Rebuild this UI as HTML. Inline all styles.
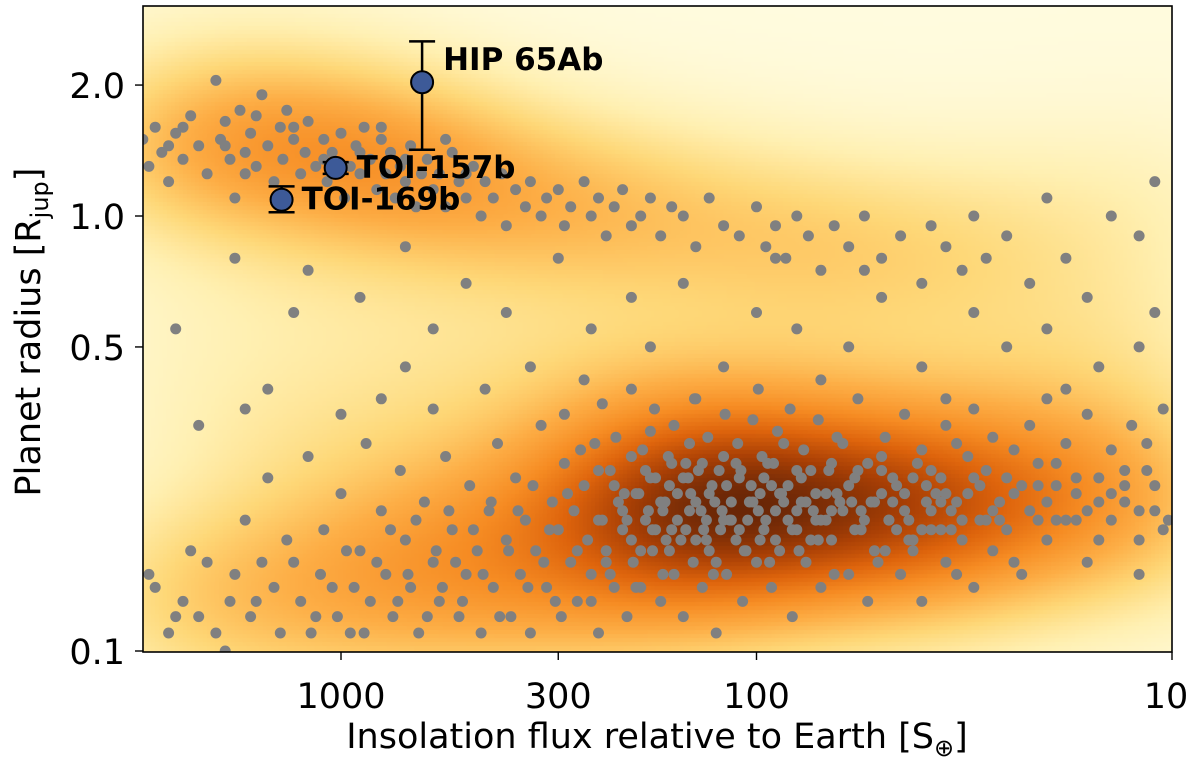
<!DOCTYPE html>
<html><head><meta charset="utf-8">
<style>
html,body{margin:0;padding:0;background:#fff;width:1200px;height:762px;overflow:hidden}
#wrap{position:relative;width:1200px;height:762px}
#heat{position:absolute;left:143px;top:6px}
svg{position:absolute;left:0;top:0}
text{font-family:"DejaVu Sans","Liberation Sans",sans-serif}
</style></head>
<body>
<div id="wrap">
<canvas id="heat" width="1029" height="646"></canvas>
<svg id="svg" width="1200" height="762"></svg>
</div>
<script>
// ---- data ----
const upperFlux=[3000,2900,2800,2700,2600,2500,2400,2300,2200,2100,2000,1950,1900,1850,1800,1750,1700,1650,1600,1550,1500,1450,1400,1380,1350,1300,1250,1220,1200,1150,1100,1080,1050,1000,980,950,920,900,880,850,820,800,780,760,740,720,700,680,660,640,620,600,580,560,540,520,500,480,460,450,430,410,400,380,360,350,330,320,300,290,280,260,250,240,230,220,210,200,190,180,170,160,150,140,130,120,110,100,95,90,85,80,75,70,65,60,55,50,45,40,38,35,32,30,28,25,22,20,18,16,14,12,11,2400,1900,1600,1300,1100,900,700,500,560,800,1700,2600];
const upperR=[1.5,1.3,1.6,1.4,1.2,1.55,1.35,1.7,1.45,1.25,2.05,1.5,1.65,1.35,1.1,1.75,1.4,1.55,1.3,1.9,1.45,1.2,1.6,1.35,1.75,1.5,1.25,1.4,1.65,1.3,1.5,1.2,1.4,1.55,1.1,1.3,1.45,1.25,1.6,1.35,1.15,1.5,1.25,1.4,1.1,1.3,1.2,1.45,1.05,1.25,1.35,1.15,1.25,1.05,1.4,1.2,1.1,1.3,1.0,1.2,1.1,1.25,0.95,1.15,1.05,1.2,1.0,1.1,1.15,0.95,1.05,1.2,1.0,1.1,0.9,1.05,1.15,0.95,1.0,1.1,0.9,1.05,1.0,0.85,1.1,0.95,0.9,1.05,0.85,0.95,0.8,1.0,0.9,0.75,0.95,0.85,1.0,0.8,0.9,0.7,0.95,0.85,0.75,1.0,0.8,0.9,0.7,1.1,0.8,0.65,1.0,0.9,1.2,1.6,1.45,1.7,1.6,1.35,1.4,1.35,1.25,1.5,1.6,1.25,1.45];
const midFlux=[2500,1800,1200,1300,900,700,600,500,400,350,300,250,200,180,150,120,100,80,60,50,40,30,25,20,15,12,11,1500,1000,800,2200,450,140,70,35,18,1700,600,260,90,55,700];
const midR=[0.55,0.8,0.75,0.6,0.65,0.45,0.55,0.7,0.6,0.45,0.8,0.55,0.65,0.5,0.7,0.45,0.6,0.55,0.5,0.65,0.45,0.6,0.5,0.55,0.45,0.5,0.6,0.4,0.35,0.38,0.33,0.4,0.38,0.42,0.38,0.4,0.36,0.36,0.42,0.8,0.75,0.85];
const lowerFlux=[2800,2500,2300,2000,1800,1700,1600,1500,1400,1300,1200,1150,1100,1050,1000,950,900,870,850,800,780,750,720,700,680,650,630,600,580,560,540,520,500,490,470,460,440,430,420,400,390,380,370,360,350,340,330,320,310,300,295,290,280,275,270,260,255,250,245,240,235,230,225,220,215,210,205,200,198,195,190,185,180,178,175,170,168,165,160,158,155,150,148,145,142,140,138,135,132,130,128,125,122,120,118,115,112,110,108,105,102,100,98,96,94,92,90,88,86,84,82,80,78,76,74,72,70,68,66,64,62,60,58,56,54,52,50,49,48,46,45,44,42,41,40,39,38,36,35,34,33,32,31,30,29,28,27,26,25,24,23,22,21,20,19,18,17,16,15,14,13,12,11.5,11,10.5,240,220,200,185,170,160,150,140,130,120,112,104,96,90,84,78,72,66,60,55,50,46,42,38,35,32,29,26,23,20,17,15,13,230,210,190,175,162,145,135,125,115,106,99,92,86,80,74,68,63,57,52,47,43,39,36,33,30,27,24,21,19,16,14,12];
const lowerR=[0.14,0.12,0.17,0.11,0.15,0.2,0.13,0.25,0.11,0.16,0.28,0.12,0.19,0.14,0.23,0.11,0.17,0.3,0.13,0.21,0.15,0.12,0.26,0.18,0.14,0.11,0.22,0.16,0.13,0.28,0.19,0.12,0.15,0.24,0.17,0.11,0.21,0.14,0.3,0.18,0.12,0.25,0.15,0.2,0.11,0.17,0.33,0.14,0.22,0.19,0.12,0.27,0.16,0.21,0.13,0.24,0.18,0.15,0.3,0.11,0.2,0.17,0.26,0.14,0.22,0.19,0.12,0.28,0.16,0.23,0.14,0.2,0.32,0.17,0.25,0.13,0.21,0.18,0.27,0.15,0.23,0.12,0.19,0.3,0.16,0.22,0.26,0.14,0.2,0.17,0.24,0.11,0.19,0.28,0.15,0.22,0.18,0.25,0.13,0.2,0.34,0.16,0.23,0.19,0.27,0.14,0.21,0.17,0.3,0.24,0.12,0.19,0.22,0.16,0.26,0.2,0.14,0.23,0.18,0.31,0.21,0.15,0.25,0.19,0.13,0.22,0.28,0.17,0.2,0.24,0.15,0.21,0.18,0.27,0.13,0.22,0.19,0.25,0.16,0.21,0.3,0.18,0.23,0.14,0.2,0.26,0.17,0.22,0.19,0.29,0.15,0.21,0.24,0.18,0.27,0.2,0.23,0.16,0.25,0.2,0.22,0.18,0.26,0.21,0.19,0.2,0.24,0.18,0.26,0.22,0.19,0.25,0.18,0.23,0.2,0.27,0.22,0.25,0.18,0.2,0.25,0.23,0.21,0.24,0.2,0.23,0.19,0.25,0.21,0.23,0.2,0.24,0.2,0.24,0.22,0.2,0.22,0.24,0.16,0.21,0.17,0.19,0.24,0.21,0.27,0.16,0.2,0.17,0.21,0.24,0.22,0.26,0.18,0.2,0.22,0.26,0.17,0.22,0.2,0.24,0.19,0.22,0.25,0.21,0.23,0.2,0.24,0.21,0.23,0.21];
const lower2Flux=[2900,2600,2400,2200,2100,1900,1850,1650,1550,1450,1350,1250,1180,1120,1020,970,930,880,820,760,730,690,660,620,590,570,550,530,510,480,455,435,415,395,375,355,345,325,315,305,285,
290,270,265,250,240,235,225,218,208,200,195,188,182,176,168,163,158,152,146,141,136,131,127,123,119,116,111,107,103,99,97,93,89,87,83,79,77,73,71,67,65,62,59,57,54,51,49,47,44,42,40,37,35,33,31,30,28,27,25,24,22,21,20,19,18,17,16,15,14,13,12.5,12,11.5,11,10.5,10.2,
205,192,178,166,155,144,134,126,118,110,102,95,88,82,76,70,64,58,53,48,44,40,36,32,
180,162,148,132,121,109,98,91,80,71,66,56,50,43,38,34];
const lower2R=[0.15,0.11,0.13,0.12,0.16,0.1,0.13,0.12,0.16,0.14,0.18,0.13,0.11,0.15,0.12,0.17,0.14,0.11,0.16,0.19,0.13,0.15,0.2,0.12,0.17,0.14,0.21,0.16,0.13,0.19,0.15,0.22,0.12,0.17,0.21,0.14,0.24,0.16,0.19,0.13,0.23,
0.35,0.17,0.29,0.13,0.26,0.37,0.15,0.31,0.23,0.4,0.14,0.29,0.21,0.36,0.15,0.28,0.33,0.18,0.25,0.38,0.21,0.31,0.15,0.26,0.35,0.2,0.3,0.17,0.24,0.4,0.28,0.16,0.32,0.23,0.36,0.17,0.29,0.21,0.34,0.26,0.15,0.3,0.22,0.38,0.27,0.16,0.31,0.25,0.35,0.17,0.29,0.23,0.33,0.15,0.28,0.36,0.2,0.31,0.25,0.16,0.33,0.27,0.38,0.2,0.3,0.25,0.35,0.18,0.29,0.26,0.33,0.15,0.3,0.24,0.36,0.2,
0.2,0.23,0.19,0.22,0.2,0.23,0.19,0.22,0.24,0.19,0.22,0.2,0.23,0.19,0.22,0.2,0.23,0.19,0.22,0.2,0.23,0.19,0.22,0.2,
0.25,0.17,0.27,0.18,0.21,0.26,0.18,0.27,0.21,0.18,0.27,0.21,0.26,0.18,0.26,0.19];
const planetNames=["HIP 65Ab","TOI-157b","TOI-169b"];
const planetFlux=[638,1030,1390];
const planetR=[2.03,1.29,1.09];
const planetRlo=[1.42,1.25,1.02];
const planetRhi=[2.52,1.33,1.17];
const xTicks=[1000,300,100,10];
const xTickLabels=["1000","300","100","10"];
const yTicks=[0.1,0.5,1.0,2.0];
const yTickLabels=["0.1","0.5","1.0","2.0"];

// ---- axes ----
const L=143,R=1172,T=6,B=652;
const xs=f=>341+(3-Math.log10(f))*415.5;
const ys=r=>651-Math.log10(r/0.1)*435;
const NS="http://www.w3.org/2000/svg";
const svg=document.getElementById('svg');
function mk(tag,attrs,parent){const e=document.createElementNS(NS,tag);for(const k in attrs)e.setAttribute(k,attrs[k]);(parent||svg).appendChild(e);return e;}

const allF=upperFlux.concat(midFlux,lowerFlux,lower2Flux), allR=upperR.concat(midR,lowerR,lower2R);
const wts=allF.map((f,i)=>i<upperFlux.length?1.0:1);

// ---- heatmap (KDE of points) ----
const cv=document.getElementById('heat'),ctx=cv.getContext('2d');
const W=cv.width,H=cv.height,cell=4,gw=Math.ceil(W/cell),gh=Math.ceil(H/cell);
const dens=new Float32Array(gw*gh);
const px=allF.map(f=>xs(f)-L), py=allR.map(r=>ys(r)-T);
const bx=80,by=55;
for(let k=0;k<px.length;k++){
  for(let j=0;j<gh;j++){const dy=(j*cell+2-py[k])/by;if(Math.abs(dy)>3.5)continue;const ey=wts[k]*Math.exp(-0.5*dy*dy);
    for(let i=0;i<gw;i++){const dx=(i*cell+2-px[k])/bx;if(Math.abs(dx)>3.5)continue;dens[j*gw+i]+=ey*Math.exp(-0.5*dx*dx);}}
}
let mx=0;for(const v of dens)if(v>mx)mx=v;
const stops=[[0,[255,251,222]],[0.12,[255,240,178]],[0.25,[254,216,120]],[0.4,[253,174,70]],[0.55,[246,140,35]],[0.7,[222,100,12]],[0.85,[170,64,5]],[1,[105,38,6]]];
function cmap(t){for(let s=1;s<stops.length;s++){if(t<=stops[s][0]){const a=stops[s-1],b=stops[s],u=(t-a[0])/(b[0]-a[0]);return a[1].map((c,i)=>Math.round(c+(b[1][i]-c)*u));}}return stops[stops.length-1][1];}
for(let j=0;j<gh;j++)for(let i=0;i<gw;i++){const t=Math.min(1,Math.pow(dens[j*gw+i]/mx,0.7));const c=cmap(t);ctx.fillStyle=`rgb(${c[0]},${c[1]},${c[2]})`;ctx.fillRect(i*cell,j*cell,cell,cell);}

// ---- scatter ----
const gPts=mk('g',{});


const clip=mk('clipPath',{id:'clip'});mk('rect',{x:L,y:T,width:R-L,height:B-T},clip);
gPts.setAttribute('clip-path','url(#clip)');
for(let k=0;k<allF.length;k++){
  const c=mk('circle',{cx:xs(allF[k]).toFixed(1),cy:ys(allR[k]).toFixed(1),r:5.5,fill:'#808080'},gPts);
  
  
}

// ---- frame ----
const frame=mk('rect',{x:L,y:T,width:R-L,height:B-T,fill:'none',stroke:'#000','stroke-width':1.6});


xTicks.forEach((v,i)=>{const x=xs(v);
  const t=mk('line',{x1:x,x2:x,y1:B,y2:B+8,stroke:'#000','stroke-width':1.4});
  
  
  const lb=mk('text',{x:i===3?x-6:x,y:708,'font-size':35,'text-anchor':'middle',fill:'#000'});lb.textContent=xTickLabels[i];
  
  
});
yTicks.forEach((v,i)=>{const y=ys(v);
  const t=mk('line',{x1:L-8,x2:L,y1:y,y2:y,stroke:'#000','stroke-width':1.4});
  
  
  const lb=mk('text',{x:L-18,y:y+13,'font-size':35,'text-anchor':'end',fill:'#000'});lb.textContent=yTickLabels[i];
  
  
});
const xt=mk('text',{x:657,y:748,'font-size':35,'text-anchor':'middle',fill:'#000'});
xt.innerHTML='Insolation flux relative to Earth [S<tspan dy="8" font-size="24">⊕</tspan><tspan dy="-8">]</tspan>';


const yt=mk('text',{x:0,y:0,'font-size':35,'text-anchor':'middle',fill:'#000',transform:'translate(40,332) rotate(-90)'});
yt.innerHTML='Planet radius [R<tspan dy="8" font-size="24">jup</tspan><tspan dy="-8">]</tspan>';



// ---- highlighted planets ----
const labOff=[[21,-12],[21,10],[20,10]];
planetNames.forEach((n,i)=>{
  const x=xs(planetFlux[i]),y=ys(planetR[i]),y1=ys(planetRhi[i]),y2=ys(planetRlo[i]);
  const g=mk('g',{});
  
  
  mk('line',{x1:x,x2:x,y1:y1,y2:y2,stroke:'#000','stroke-width':2.5},g);
  mk('line',{x1:x-13,x2:x+13,y1:y1,y2:y1,stroke:'#000','stroke-width':2.5},g);
  mk('line',{x1:x-13,x2:x+13,y1:y2,y2:y2,stroke:'#000','stroke-width':2.5},g);
  mk('circle',{cx:x,cy:y,r:11,fill:'#3d5a98',stroke:'#000','stroke-width':2},g);
  const t=mk('text',{x:x+labOff[i][0],y:y+labOff[i][1],'font-size':31,'font-weight':'bold',fill:'#000'},g);
  t.textContent=n;
  
  
});
</script>
</body></html>
